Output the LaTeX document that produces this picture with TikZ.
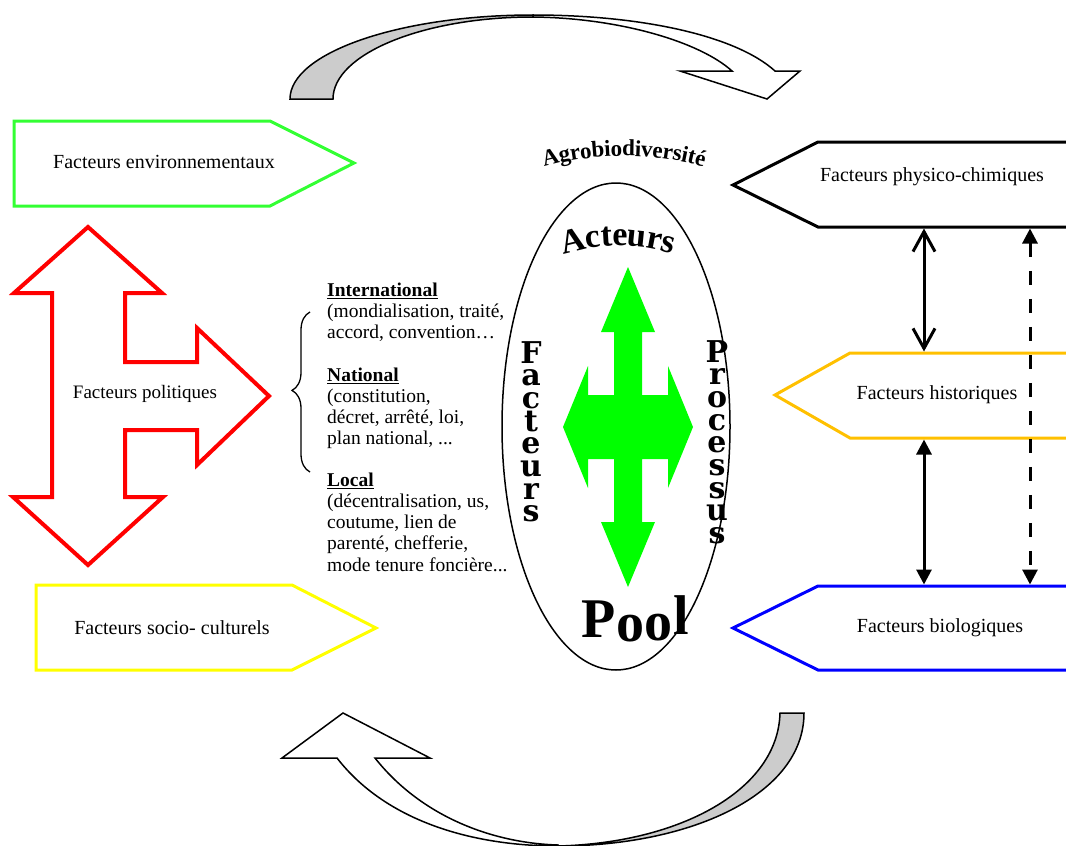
\documentclass[tikz,border=0pt]{standalone}
\usepackage{fontspec}
\setmainfont{Liberation Serif}
\newfontfamily\stackfont{DejaVu Serif}
\usetikzlibrary{arrows.meta,decorations.pathreplacing}
\definecolor{envgreen}{HTML}{33FF33}
\definecolor{crossgreen}{HTML}{00FF00}
\definecolor{socyellow}{HTML}{FFFF00}
\definecolor{historange}{HTML}{FFC000}
\definecolor{bioblue}{HTML}{0000FF}
\definecolor{polred}{HTML}{FF0000}
\definecolor{ribbongray}{HTML}{CCCCCC}
\begin{document}
\begin{tikzpicture}[x=1pt,y=-1pt,
  pent/.style={line width=3pt, line join=miter},
  lbl/.style={font=\fontsize{20}{24}\selectfont, inner sep=0pt},
  ribbon/.style={line width=1.5pt, line join=miter},
  stack/.style={font=\stackfont\fontsize{30}{22.7}\selectfont\bfseries, align=center, inner sep=0pt, anchor=north},
  arcletter/.style={anchor=base, inner sep=0pt},
  link/.style={line width=3pt}
]
\useasboundingbox (0,0) rectangle (1066,846);

% top curved arrow
\filldraw[ribbon, fill=ribbongray] (290,99) .. controls (290,53) and (399,15) .. (533,15)
  -- (533,17) .. controls (423,17) and (333,54) .. (333,99) -- cycle;
\filldraw[ribbon, fill=white] (533,15) .. controls (640,15) and (735,35) .. (775,71)
  -- (800,71) -- (767,99) -- (680,71) -- (732,71)
  .. controls (700,42) and (620,18) .. (533,17) -- cycle;

% bottom curved arrow
\filldraw[ribbon, fill=ribbongray] (780,713) -- (804,713) .. controls (804,795) and (690,846) .. (558,846)
  .. controls (680,843) and (778,790) .. (780,713) -- cycle;
\filldraw[ribbon, fill=white] (558,846) .. controls (470,846) and (385,820) .. (337,758)
  -- (282,758) -- (343,713) -- (430,758) -- (375,758)
  .. controls (420,815) and (490,843) .. (558,845) -- cycle;

% left shapes
\draw[pent, draw=envgreen] (14,121) -- (270,121) -- (354,163) -- (270,206) -- (14,206) -- cycle;
\node[lbl] (env) at (164,162) {Facteurs environnementaux};

\draw[line width=4pt, line join=miter, draw=polred] (88,227) -- (162,293) -- (125,293) -- (125,362)
  -- (197,362) -- (197,328) -- (269,396) -- (197,465) -- (197,430) -- (125,430) -- (125,497)
  -- (163,497) -- (88,565) -- (13,497) -- (52,497) -- (52,293) -- (14,293) -- cycle;
\node[lbl, font=\fontsize{19}{23}\selectfont] (pol) at (145,394) {Facteurs politiques};

\draw[pent, draw=socyellow] (36,585) -- (292,585) -- (376,628) -- (292,670) -- (36,670) -- cycle;
\node[lbl] (soc) at (172,628) {Facteurs socio- culturels};

% brace and text block
\draw[line width=1.3pt, decorate, decoration={brace, amplitude=18pt, aspect=0.51}] (310,472) -- (310,312);
\node[anchor=north west, inner sep=0pt, align=left, font=\fontsize{19.5}{21.1}\selectfont] (politxt) at (327,283)
{\textbf{\underline{International}}\\(mondialisation, traité,\\accord, convention…\\[21.1pt]
\textbf{\underline{National}}\\(constitution,\\décret, arrêté, loi,\\plan national, ...\\[21.1pt]
\textbf{\underline{Local}}\\(décentralisation, us,\\coutume, lien de\\parenté, chefferie,\\mode tenure foncière...};

% central ellipse
\draw[line width=1.5pt] (616,426.5) ellipse [x radius=114pt, y radius=243.5pt];
\fill[crossgreen] (628,267) -- (655,332) -- (642,332) -- (642,395) -- (668,395) -- (668,366)
  -- (693,427) -- (668,488) -- (668,459) -- (642,459) -- (642,522) -- (655,522) -- (628,587)
  -- (601,522) -- (614,522) -- (614,459) -- (588,459) -- (588,488) -- (563,427) -- (588,366)
  -- (588,395) -- (614,395) -- (614,332) -- (601,332) -- cycle;

% arched words, letter by letter
\foreach \ch/\s [count=\k] in {A/-72.5,g/-58.7,r/-48.1,o/-37.5,b/-25.6,i/-16.2,o/-7.5,d/4.4,i/13.8,v/22.5,e/33.1,r/43.1,s/52.5,i/60.0,t/66.9,é/75.6}{
  \pgfmathsetmacro\ang{\s/295*180/pi}
  \pgfmathsetmacro\rot{-\ang}
  \pgfmathsetmacro\pol{90-\ang}
  \node[arcletter, font=\fontsize{23}{23}\selectfont\bfseries, rotate=\rot] (agro\k) at ([shift={(\pol:295pt)}]624,451) {\ch};
}
\foreach \ch/\s [count=\k] in {A/-43.1,c/-23.8,t/-11.0,e/1.8,u/18.3,r/34.8,s/48.6}{
  \pgfmathsetmacro\ang{\s/180*180/pi}
  \pgfmathsetmacro\rot{-\ang}
  \pgfmathsetmacro\pol{90-\ang}
  \node[arcletter, font=\fontsize{34}{34}\selectfont\bfseries, rotate=\rot] (act\k) at ([shift={(\pol:180pt)}]618,426) {\ch};
}
\foreach \ch/\x/\y [count=\k] in {P/599/637,o/630/641,o/658/640,l/681/634}{
  \node[arcletter, font=\fontsize{56}{56}\selectfont\bfseries] (pool\k) at (\x,\y) {\ch};
}

\node[stack] (fac) at (531,341) {F\\a\\c\\t\\e\\u\\r\\s};
\node[stack] (proc) at (717,340) {P\\r\\o\\c\\e\\s\\s\\u\\s};

% right shapes
\draw[pent, draw=black] (1066,142) -- (818,142) -- (733,185) -- (818,227) -- (1066,227);
\node[lbl] (phys) at (932,177) {Facteurs physico-chimiques};
\draw[pent, draw=historange] (1066,353) -- (850,353) -- (775,395) -- (850,438) -- (1066,438);
\node[lbl] (hist) at (937,395) {Facteurs historiques};
\draw[pent, draw=bioblue] (1066,586) -- (818,586) -- (733,628) -- (818,670) -- (1066,670);
\node[lbl] (bio) at (940,628) {Facteurs biologiques};

% connectors
\coordinate (physA) at (924,228.5);
\coordinate (histA) at (924,351.5);
\coordinate (histB) at (924,439.5);
\coordinate (bioA) at (924,584.5);
\coordinate (physD) at (1030,228.5);
\coordinate (bioD) at (1030,584.5);
\draw[link, {Straight Barb[length=20pt,width=22pt]}-{Straight Barb[length=20pt,width=22pt]}] (physA) -- (histA);
\draw[link, {Triangle[length=15pt,width=15pt]}-{Triangle[length=15pt,width=15pt]}] (histB) -- (bioA);
\draw[link, dash pattern=on 14pt off 14pt, {Triangle[length=15pt,width=15pt]}-{Triangle[length=15pt,width=15pt]}] (physD) -- (bioD);
\end{tikzpicture}
\end{document}
